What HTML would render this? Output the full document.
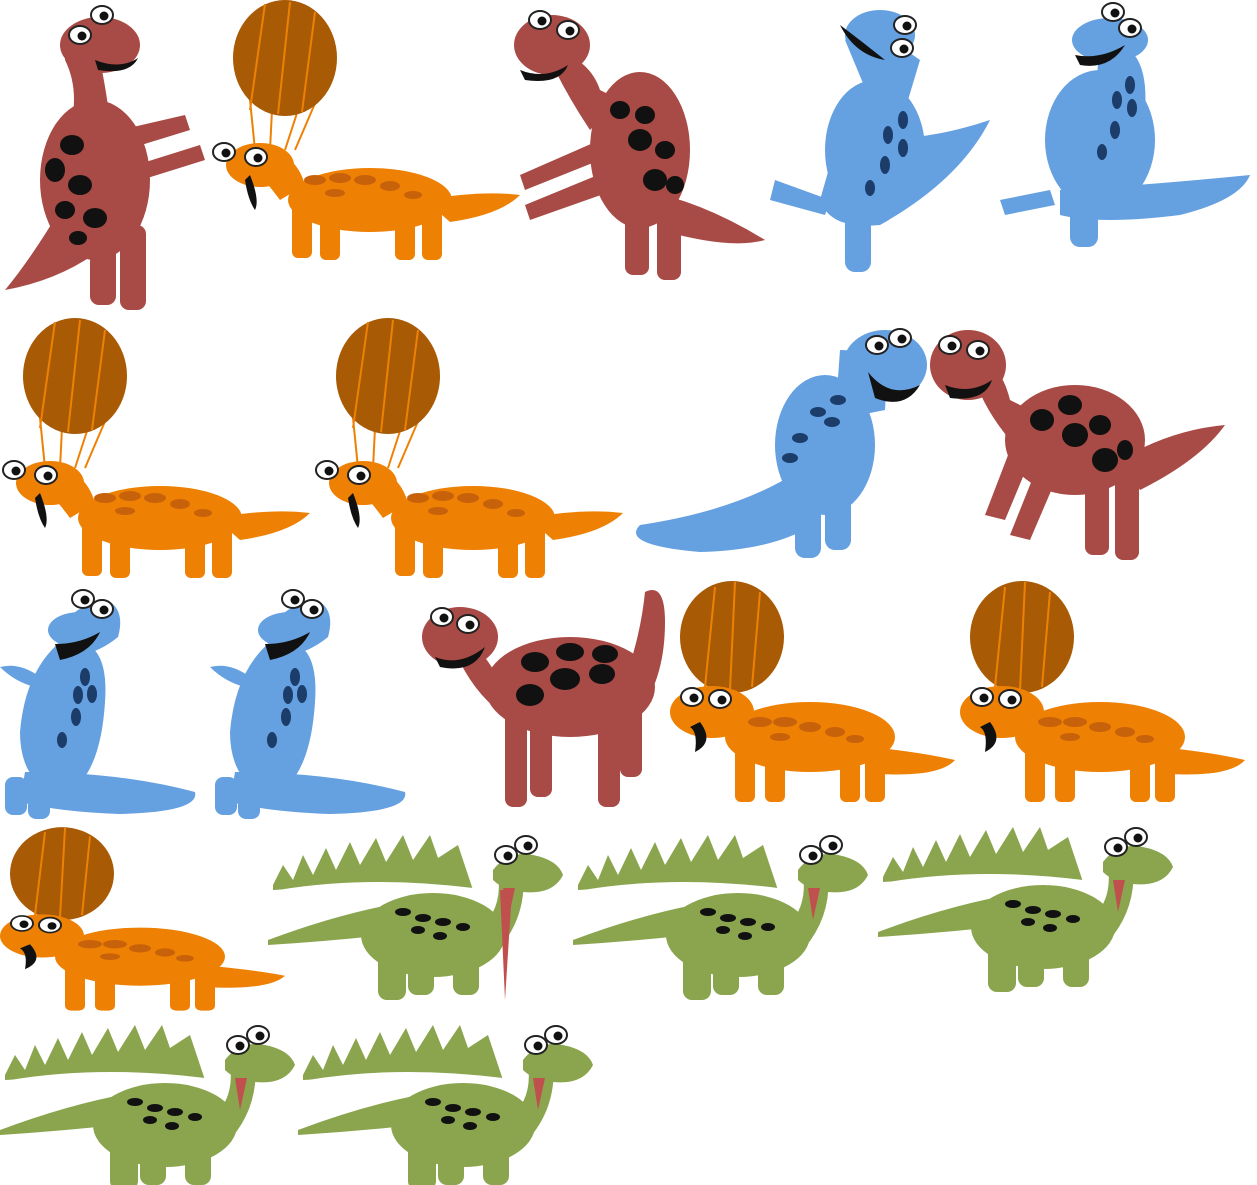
<!DOCTYPE html>
<html><head><meta charset="utf-8"><style>
html,body{margin:0;padding:0;background:#fff;width:1257px;height:1185px;overflow:hidden}
svg{display:block}
</style></head><body>
<svg width="1257" height="1185" viewBox="0 0 1257 1185" xmlns="http://www.w3.org/2000/svg">
<defs>
  <g id="eye"><ellipse cx="0" cy="0" rx="11" ry="9" fill="#fff" stroke="#222" stroke-width="2"/><circle cx="2" cy="1" r="4.5" fill="#111"/></g>
  <g id="orangeB">
    <line x1="40" y1="100" x2="45" y2="150" stroke="#ee8104" stroke-width="2"/>
    <line x1="62" y1="110" x2="60" y2="150" stroke="#ee8104" stroke-width="2"/>
    <line x1="88" y1="110" x2="75" y2="150" stroke="#ee8104" stroke-width="2"/>
    <line x1="115" y1="80" x2="85" y2="150" stroke="#ee8104" stroke-width="2"/>
    <ellipse cx="75" cy="58" rx="52" ry="58" fill="#a85a05"/>
    <line x1="55" y1="4" x2="40" y2="110" stroke="#ee8104" stroke-width="2"/>
    <line x1="80" y1="2" x2="68" y2="114" stroke="#ee8104" stroke-width="2"/>
    <line x1="105" y1="12" x2="92" y2="112" stroke="#ee8104" stroke-width="2"/>
    <rect x="82" y="200" width="20" height="58" rx="6" fill="#ee8104"/>
    <rect x="110" y="205" width="20" height="55" rx="6" fill="#ee8104"/>
    <rect x="185" y="205" width="20" height="55" rx="6" fill="#ee8104"/>
    <rect x="212" y="205" width="20" height="55" rx="6" fill="#ee8104"/>
    <path d="M215 200 Q270 190 310 195 Q290 215 240 222 Z" fill="#ee8104"/>
    <ellipse cx="160" cy="200" rx="82" ry="32" fill="#ee8104"/>
    <path d="M50 150 Q85 150 95 185 L70 200 Q55 180 45 170 Z" fill="#ee8104"/>
    <ellipse cx="50" cy="165" rx="34" ry="22" fill="#ee8104"/>
    <path d="M40 175 Q50 200 45 210 Q38 200 35 180 Z" fill="#111"/>
    <g fill="#c8620a"><ellipse cx="105" cy="180" rx="11" ry="5"/><ellipse cx="130" cy="178" rx="11" ry="5"/><ellipse cx="155" cy="180" rx="11" ry="5"/><ellipse cx="180" cy="186" rx="10" ry="5"/><ellipse cx="203" cy="195" rx="9" ry="4"/><ellipse cx="125" cy="193" rx="10" ry="4"/></g>
    <use href="#eye" x="14" y="152"/><use href="#eye" x="46" y="157"/>
  </g>
  <g id="orangeF">
    <ellipse cx="62" cy="55" rx="52" ry="56" fill="#a85a05"/>
    <line x1="45" y1="5" x2="35" y2="105" stroke="#ee8104" stroke-width="2"/>
    <line x1="65" y1="0" x2="60" y2="108" stroke="#ee8104" stroke-width="2"/>
    <line x1="90" y1="10" x2="82" y2="105" stroke="#ee8104" stroke-width="2"/>
    <rect x="65" y="150" width="20" height="70" rx="6" fill="#ee8104"/>
    <rect x="95" y="155" width="20" height="65" rx="6" fill="#ee8104"/>
    <rect x="170" y="160" width="20" height="60" rx="6" fill="#ee8104"/>
    <rect x="195" y="160" width="20" height="60" rx="6" fill="#ee8104"/>
    <path d="M200 165 Q250 170 285 178 Q270 195 210 192 Z" fill="#ee8104"/>
    <ellipse cx="140" cy="155" rx="85" ry="35" fill="#ee8104"/>
    <ellipse cx="42" cy="130" rx="42" ry="26" fill="#ee8104"/>
    <path d="M30 140 Q45 160 25 170 Q28 150 20 145 Z" fill="#111"/>
    <g fill="#c8620a"><ellipse cx="90" cy="140" rx="12" ry="5"/><ellipse cx="115" cy="140" rx="12" ry="5"/><ellipse cx="140" cy="145" rx="11" ry="5"/><ellipse cx="165" cy="150" rx="10" ry="5"/><ellipse cx="185" cy="157" rx="9" ry="4"/><ellipse cx="110" cy="155" rx="10" ry="4"/></g>
    <use href="#eye" x="22" y="115"/><use href="#eye" x="50" y="117"/>
  </g>
  <g id="blueA">
    <path d="M60 60 Q110 50 105 120 Q100 200 60 215 Q20 200 20 150 Q25 90 60 60 Z" fill="#65a0e0"/>
    <path d="M25 190 Q120 190 195 210 Q200 230 120 232 Q60 230 20 220 Z" fill="#65a0e0"/>
    <path d="M0 85 Q20 80 40 95 L35 105 Q15 100 0 85 Z" fill="#65a0e0"/>
    <rect x="28" y="195" width="22" height="42" rx="8" fill="#65a0e0"/>
    <rect x="5" y="195" width="22" height="38" rx="8" fill="#65a0e0"/>
    <path d="M65 40 Q80 20 110 20 Q125 30 118 55 Q100 70 75 75 Z" fill="#65a0e0"/>
    <ellipse cx="80" cy="48" rx="32" ry="18" fill="#65a0e0"/>
    <path d="M55 62 Q80 62 100 50 Q90 72 60 78 Z" fill="#111"/>
    <g fill="#1c3c6a"><ellipse cx="85" cy="95" rx="5" ry="9"/><ellipse cx="78" cy="113" rx="5" ry="9"/><ellipse cx="92" cy="112" rx="5" ry="9"/><ellipse cx="76" cy="135" rx="5" ry="9"/><ellipse cx="62" cy="158" rx="5" ry="8"/></g>
    <use href="#eye" x="83" y="17"/><use href="#eye" x="102" y="27"/>
  </g>
  <g id="redA">
    <path d="M200 110 Q220 60 225 10 Q245 0 245 40 Q245 100 215 135 Z" fill="#a84a45"/>
    <rect x="85" y="120" width="22" height="105" rx="8" fill="#a84a45"/>
    <rect x="110" y="120" width="22" height="95" rx="8" fill="#a84a45"/>
    <rect x="178" y="115" width="22" height="110" rx="8" fill="#a84a45"/>
    <rect x="200" y="115" width="22" height="80" rx="8" fill="#a84a45"/>
    <ellipse cx="150" cy="105" rx="85" ry="50" fill="#a84a45"/>
    <path d="M40 60 Q60 60 80 100 L110 120 L95 140 Q60 120 40 80 Z" fill="#a84a45"/>
    <ellipse cx="40" cy="55" rx="38" ry="30" fill="#a84a45"/>
    <path d="M15 75 Q40 85 65 65 Q55 92 20 85 Z" fill="#111"/>
    <g fill="#111"><ellipse cx="115" cy="80" rx="14" ry="10"/><ellipse cx="150" cy="70" rx="14" ry="9"/><ellipse cx="185" cy="72" rx="13" ry="9"/><ellipse cx="110" cy="113" rx="14" ry="11"/><ellipse cx="145" cy="97" rx="15" ry="11"/><ellipse cx="182" cy="92" rx="13" ry="10"/></g>
    <use href="#eye" x="22" y="35"/><use href="#eye" x="48" y="42"/>
  </g>
  <g id="greenA">
    <path d="M5 55 L15 35 L25 50 L35 25 L45 45 L58 18 L68 40 L82 12 L92 35 L108 8 L118 32 L135 5 L145 30 L162 5 L170 28 L190 15 L200 45 L205 60 Q100 55 5 60 Z" fill="#8aa54e"/>
    <path d="M10 60 Q100 45 205 58 L205 70 Q100 62 10 66 Z" fill="#fff"/>
    <path d="M0 110 Q80 80 150 70 L160 100 Q80 110 0 115 Z" fill="#8aa54e"/>
    <rect x="110" y="120" width="28" height="50" rx="9" fill="#8aa54e"/>
    <rect x="140" y="125" width="26" height="40" rx="9" fill="#8aa54e"/>
    <rect x="185" y="125" width="26" height="40" rx="9" fill="#8aa54e"/>
    <ellipse cx="165" cy="105" rx="72" ry="42" fill="#8aa54e"/>
    <path d="M210 100 Q235 80 230 45 L255 40 Q260 90 225 125 Z" fill="#8aa54e"/>
    <path d="M225 40 Q240 20 265 25 Q290 30 295 45 Q285 65 255 62 Q235 60 225 50 Z" fill="#8aa54e"/>
    <path d="M235 58 L240 90 L247 58 Z" fill="#c0504d"/>
    <g fill="#111"><ellipse cx="135" cy="82" rx="8" ry="4"/><ellipse cx="155" cy="88" rx="8" ry="4"/><ellipse cx="175" cy="92" rx="8" ry="4"/><ellipse cx="195" cy="97" rx="7" ry="4"/><ellipse cx="150" cy="100" rx="7" ry="4"/><ellipse cx="172" cy="106" rx="7" ry="4"/></g>
    <use href="#eye" x="238" y="25"/><use href="#eye" x="258" y="15"/>
  </g>
</defs>

<g>
  <path d="M60 210 Q30 260 5 290 Q60 280 100 250 Z" fill="#a84a45"/>
  <rect x="90" y="220" width="26" height="85" rx="9" fill="#a84a45"/>
  <rect x="120" y="225" width="26" height="85" rx="9" fill="#a84a45"/>
  <path d="M120 130 L185 115 L190 130 L125 150 Z M120 170 L200 145 L205 160 L125 185 Z" fill="#a84a45"/>
  <ellipse cx="95" cy="180" rx="55" ry="80" fill="#a84a45"/>
  <path d="M65 40 Q90 35 100 60 Q110 110 110 130 L70 130 Q80 90 65 60 Z" fill="#a84a45"/>
  <ellipse cx="100" cy="45" rx="40" ry="28" fill="#a84a45"/>
  <path d="M95 60 Q120 70 138 58 Q130 75 98 70 Z" fill="#111"/>
  <g fill="#111"><ellipse cx="72" cy="145" rx="12" ry="10"/><ellipse cx="55" cy="170" rx="10" ry="12"/><ellipse cx="80" cy="185" rx="12" ry="10"/><ellipse cx="65" cy="210" rx="10" ry="9"/><ellipse cx="95" cy="218" rx="12" ry="10"/><ellipse cx="78" cy="238" rx="9" ry="7"/></g>
  <use href="#eye" x="80" y="35"/><use href="#eye" x="102" y="15"/>
</g>
<use href="#orangeB" x="210" y="0"/>
<g>
  <path d="M640 190 Q700 200 765 240 Q730 250 660 230 Z" fill="#a84a45"/>
  <rect x="625" y="210" width="24" height="65" rx="8" fill="#a84a45"/>
  <rect x="657" y="210" width="24" height="70" rx="8" fill="#a84a45"/>
  <path d="M600 140 L520 175 L525 190 L600 160 Z M610 170 L525 205 L530 220 L615 190 Z" fill="#a84a45"/>
  <ellipse cx="640" cy="150" rx="50" ry="78" fill="#a84a45"/>
  <path d="M555 50 Q590 60 600 90 L620 100 L590 130 Q570 100 555 70 Z" fill="#a84a45"/>
  <ellipse cx="552" cy="45" rx="38" ry="30" fill="#a84a45"/>
  <path d="M520 70 Q545 80 568 65 Q560 85 525 80 Z" fill="#111"/>
  <g fill="#111"><ellipse cx="620" cy="110" rx="10" ry="9"/><ellipse cx="645" cy="115" rx="10" ry="9"/><ellipse cx="640" cy="140" rx="12" ry="11"/><ellipse cx="665" cy="150" rx="10" ry="9"/><ellipse cx="655" cy="180" rx="12" ry="11"/><ellipse cx="675" cy="185" rx="9" ry="9"/></g>
  <use href="#eye" x="540" y="20"/><use href="#eye" x="568" y="30"/>
</g>
<g>
  <path d="M840 130 Q900 150 990 120 Q960 180 880 225 Q830 230 820 200 Z" fill="#65a0e0"/>
  <path d="M775 180 L830 200 L825 215 L770 200 Z" fill="#65a0e0"/>
  <rect x="845" y="200" width="26" height="72" rx="10" fill="#65a0e0"/>
  <ellipse cx="875" cy="150" rx="50" ry="70" fill="#65a0e0"/>
  <path d="M845 40 Q880 30 920 60 L905 110 L870 100 Z" fill="#65a0e0"/>
  <ellipse cx="880" cy="35" rx="35" ry="25" fill="#65a0e0"/>
  <path d="M840 25 Q860 40 885 60 Q855 55 840 25 Z" fill="#111"/>
  <g fill="#1c3c6a"><ellipse cx="903" cy="120" rx="5" ry="9"/><ellipse cx="888" cy="135" rx="5" ry="9"/><ellipse cx="903" cy="148" rx="5" ry="9"/><ellipse cx="885" cy="165" rx="5" ry="9"/><ellipse cx="870" cy="188" rx="5" ry="8"/></g>
  <use href="#eye" x="905" y="25"/><use href="#eye" x="902" y="48"/>
</g>
<g>
  <path d="M1060 190 Q1150 185 1250 175 Q1240 200 1180 215 Q1100 225 1060 215 Z" fill="#65a0e0"/>
  <path d="M1000 200 L1050 190 L1055 205 L1005 215 Z" fill="#65a0e0"/>
  <rect x="1070" y="195" width="28" height="52" rx="10" fill="#65a0e0"/>
  <ellipse cx="1100" cy="140" rx="55" ry="70" fill="#65a0e0"/>
  <path d="M1100 40 Q1150 40 1145 110 L1095 100 Z" fill="#65a0e0"/>
  <ellipse cx="1110" cy="40" rx="38" ry="22" fill="#65a0e0"/>
  <path d="M1075 55 Q1100 60 1125 45 Q1110 70 1080 65 Z" fill="#111"/>
  <g fill="#1c3c6a"><ellipse cx="1130" cy="85" rx="5" ry="9"/><ellipse cx="1117" cy="100" rx="5" ry="9"/><ellipse cx="1132" cy="108" rx="5" ry="9"/><ellipse cx="1115" cy="130" rx="5" ry="9"/><ellipse cx="1102" cy="152" rx="5" ry="8"/></g>
  <use href="#eye" x="1113" y="12"/><use href="#eye" x="1130" y="28"/>
</g>

<use href="#orangeB" x="0" y="318"/>
<use href="#orangeB" x="313" y="318"/>
<g>
  <path d="M800 470 Q740 510 640 525 Q620 545 700 552 Q780 550 820 520 Z" fill="#65a0e0"/>
  <rect x="795" y="480" width="26" height="78" rx="10" fill="#65a0e0"/>
  <rect x="825" y="480" width="26" height="70" rx="10" fill="#65a0e0"/>
  <ellipse cx="825" cy="445" rx="50" ry="70" fill="#65a0e0"/>
  <path d="M840 350 Q890 350 885 410 L835 420 Z" fill="#65a0e0"/>
  <ellipse cx="885" cy="365" rx="42" ry="35" fill="#65a0e0"/>
  <path d="M868 372 Q890 400 920 385 Q905 410 875 398 Z" fill="#111"/>
  <g fill="#1c3c6a"><ellipse cx="838" cy="400" rx="8" ry="5"/><ellipse cx="818" cy="412" rx="8" ry="5"/><ellipse cx="832" cy="422" rx="8" ry="5"/><ellipse cx="800" cy="438" rx="8" ry="5"/><ellipse cx="790" cy="458" rx="8" ry="5"/></g>
  <use href="#eye" x="877" y="345"/><use href="#eye" x="900" y="338"/>
</g>
<g>
  <path d="M1120 460 Q1170 430 1225 425 Q1200 460 1140 490 Z" fill="#a84a45"/>
  <path d="M1010 450 L985 515 L1005 520 L1030 460 Z M1040 460 L1010 535 L1030 540 L1060 470 Z" fill="#a84a45"/>
  <rect x="1085" y="470" width="24" height="85" rx="8" fill="#a84a45"/>
  <rect x="1115" y="470" width="24" height="90" rx="8" fill="#a84a45"/>
  <ellipse cx="1075" cy="440" rx="70" ry="55" fill="#a84a45"/>
  <path d="M975 360 Q1000 360 1010 400 L1030 410 L1010 440 Q985 410 975 380 Z" fill="#a84a45"/>
  <ellipse cx="968" cy="365" rx="38" ry="35" fill="#a84a45"/>
  <path d="M945 385 Q970 395 992 380 Q985 402 950 398 Z" fill="#111"/>
  <g fill="#111"><ellipse cx="1042" cy="420" rx="12" ry="11"/><ellipse cx="1070" cy="405" rx="12" ry="10"/><ellipse cx="1100" cy="425" rx="11" ry="10"/><ellipse cx="1075" cy="435" rx="13" ry="12"/><ellipse cx="1105" cy="460" rx="13" ry="12"/><ellipse cx="1125" cy="450" rx="8" ry="10"/></g>
  <use href="#eye" x="950" y="345"/><use href="#eye" x="978" y="350"/>
</g>

<use href="#blueA" x="0" y="582"/>
<use href="#blueA" x="210" y="582"/>
<use href="#redA" x="420" y="582"/>
<use href="#orangeF" x="670" y="582"/>
<use href="#orangeF" x="960" y="582"/>

<use href="#orangeF" transform="translate(0 828) scale(1 0.83)"/>
<use href="#greenA" x="268" y="830"/>
<path d="M500 890 L505 1000 L512 890 Z" fill="#c0504d"/>
<use href="#greenA" x="573" y="830"/>
<use href="#greenA" x="878" y="822"/>

<use href="#greenA" x="0" y="1020"/>
<use href="#greenA" x="298" y="1020"/>
</svg>
</body></html>
